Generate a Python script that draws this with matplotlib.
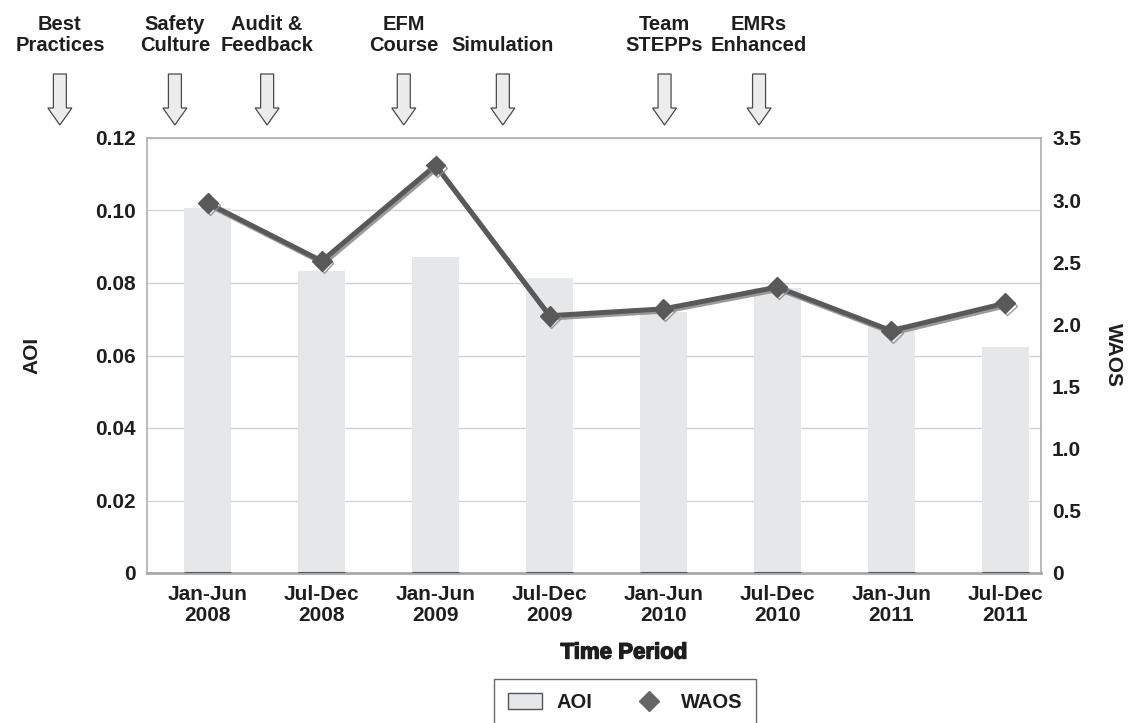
import matplotlib
matplotlib.use("Agg")
import matplotlib.pyplot as plt
import matplotlib.transforms as mtransforms
import matplotlib.patheffects as pe
from matplotlib.patches import Patch, Polygon
from matplotlib.lines import Line2D
from matplotlib.legend_handler import HandlerLine2D
import numpy as np

# data
periods = ["Jan-Jun\n2008", "Jul-Dec\n2008", "Jan-Jun\n2009", "Jul-Dec\n2009",
           "Jan-Jun\n2010", "Jul-Dec\n2010", "Jan-Jun\n2011", "Jul-Dec\n2011"]
aoi = [0.1008, 0.0833, 0.0873, 0.0814, 0.0719, 0.0785, 0.0685, 0.0624]
waos = [2.975, 2.51, 3.28, 2.07, 2.125, 2.30, 1.95, 2.17]

# interventions shown above the plot, placed on the period axis
events = ["Best\nPractices", "Safety\nCulture", "Audit &\nFeedback", "EFM\nCourse",
          "Simulation", "Team\nSTEPPs", "EMRs\nEnhanced"]
event_at = [-1.30, -0.29, 0.52, 1.72, 2.59, 4.01, 4.84]

plt.rcParams['font.family'] = ['Liberation Sans', 'DejaVu Sans']
plt.rcParams['font.weight'] = 'bold'
txt = '#1e1e1e'
fs = 15


class RightMarker(HandlerLine2D):
    # put the single legend marker at the right end of its handle box
    def get_xdata(self, legend, xdescent, ydescent, width, height, fontsize):
        return [-xdescent, -xdescent + width], [-xdescent + width - 0.3 * fontsize]


W, H = 1129, 723
fig = plt.figure(figsize=(W / 100, H / 100), dpi=100)
ax = fig.add_axes([147 / W, 1 - 573 / H, (1041 - 147) / W, (573 - 138) / H])

x = np.arange(len(periods))
bw = 0.413
ax.bar(x, aoi, width=bw, color='#e6e7e9', zorder=2)
# dark foot under each bar
ax.hlines(np.zeros(len(x)), x - bw / 2, x + bw / 2, color='#555555', lw=2.2, zorder=3)
ax.set_xlim(-0.535, 7.316)
ax.set_ylim(0, 0.12)
ax.set_yticks(np.arange(0, 0.121, 0.02))
ax.set_yticklabels(["0", "0.02", "0.04", "0.06", "0.08", "0.10", "0.12"])
ax.set_xticks(x)
ax.set_xticklabels(periods, linespacing=1.12)
ax.yaxis.grid(True, color='#d2d2d2', lw=1.0, zorder=0)
ax.set_axisbelow(True)
ax.tick_params(length=0, labelsize=fs, labelcolor=txt)
ax.tick_params(axis='y', pad=8)
ax.tick_params(axis='x', pad=9)
for s in ax.spines.values():
    s.set_color('#a8a8a8')
    s.set_linewidth(1.1)
ax.spines['bottom'].set_linewidth(2.0)

ax2 = ax.twinx()
ax2.plot(x, waos, color='#595959', lw=3.6, marker='D', markersize=10, zorder=4,
         path_effects=[pe.SimpleLineShadow(offset=(1.3, -1.6), shadow_color='#909090', alpha=0.9),
                       pe.Normal()])
ax2.set_ylim(0, 3.5)
ax2.set_yticks(np.arange(0, 3.51, 0.5))
ax2.set_yticklabels(["0", "0.5", "1.0", "1.5", "2.0", "2.5", "3.0", "3.5"])
ax2.tick_params(length=0, labelsize=fs, labelcolor=txt, pad=8)
for s in ax2.spines.values():
    s.set_visible(False)

fig.text(32 / W, 1 - 355 / H, "AOI", rotation=90, ha='center', va='center', fontsize=fs, color=txt)
fig.text(1113 / W, 1 - 355 / H, "WAOS", rotation=270, ha='center', va='center', fontsize=fs, color=txt)
fig.text(624 / W, 1 - 653 / H, "Time Period", ha='center', va='center', fontsize=16, color=txt,
         path_effects=[pe.withStroke(linewidth=1.0, foreground=txt)])

# intervention labels and hollow arrows
blend = mtransforms.blended_transform_factory(ax.transData, fig.transFigure)
xl = ax.get_xlim()
unit_px = (1041 - 147) / (xl[1] - xl[0])
sw, hw = 6.5 / unit_px, 12 / unit_px
top, base, tip = 1 - 74 / H, 1 - 108 / H, 1 - 125 / H
for name, ex in zip(events, event_at):
    fig.text(ex, 1 - 55 / H, name, transform=blend, ha='center', va='bottom',
             fontsize=14.5, color=txt, linespacing=1.15)
    verts = [(ex - sw, top), (ex + sw, top), (ex + sw, base), (ex + hw, base),
             (ex, tip), (ex - hw, base), (ex - sw, base)]
    fig.add_artist(Polygon(verts, closed=True, transform=blend, facecolor='#ececec',
                           edgecolor='#4a4a4a', lw=0.9, clip_on=False))

waos_key = Line2D([], [], ls='none', marker='D', color='#666666', markersize=10)
handles = [Patch(facecolor='#e6e7e9', edgecolor='#555555', lw=1.0), waos_key]
leg = fig.legend(handles, ["AOI", "WAOS"], loc='upper center',
                 bbox_to_anchor=(625 / W, 1 - 679 / H), borderaxespad=0, ncol=2,
                 frameon=True, fancybox=False, edgecolor='#444444',
                 prop={'weight': 'bold', 'size': 14.5}, handlelength=1.7, handleheight=0.85,
                 handletextpad=0.7, columnspacing=2.0, borderpad=0.7,
                 handler_map={waos_key: RightMarker()})
leg.get_frame().set_linewidth(1.0)
for t in leg.get_texts():
    t.set_color(txt)

fig.savefig("out.png", dpi=100)
